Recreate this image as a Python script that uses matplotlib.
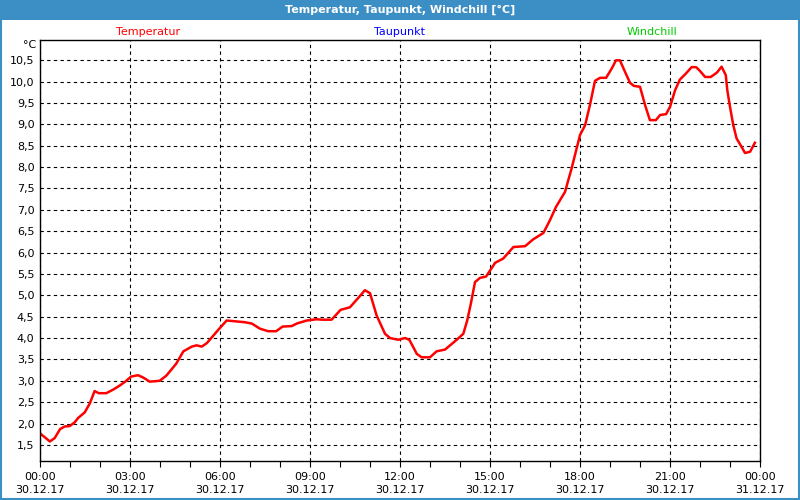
import matplotlib.pyplot as plt
import matplotlib.dates as mdates
import matplotlib.ticker as mticker
from matplotlib.patches import Rectangle
import numpy as np
import datetime as dt

# hours since 30.12.17 00:00 and temperature in °C
hours = [0.0, 0.33, 0.49, 0.67, 0.82, 0.99, 1.16, 1.27, 1.49, 1.66, 1.82, 1.96,
         2.21, 2.43, 2.66, 2.84, 3.04, 3.27, 3.43, 3.66, 3.99, 4.21, 4.54, 4.78,
         5.06, 5.22, 5.39, 5.56, 5.94, 6.22, 6.39, 6.83, 7.06, 7.33, 7.61, 7.87,
         8.09, 8.39, 8.56, 8.89, 9.22, 9.39, 9.72, 10.02, 10.33, 10.61, 10.83, 11.0,
         11.22, 11.5, 11.67, 11.94, 12.17, 12.31, 12.44, 12.56, 12.72, 13.0, 13.22,
         13.5, 13.89, 14.11, 14.24, 14.36, 14.5, 14.67, 14.87, 15.17, 15.44, 15.78,
         16.17, 16.44, 16.78, 17.0, 17.2, 17.5, 17.72, 18.0, 18.17, 18.33, 18.5,
         18.67, 18.87, 19.06, 19.2, 19.33, 19.5, 19.67, 19.8, 20.0, 20.17, 20.33,
         20.53, 20.67, 20.87, 21.0, 21.17, 21.33, 21.53, 21.72, 21.87, 22.0, 22.17,
         22.36, 22.56, 22.72, 22.86, 22.91, 23.0, 23.11, 23.22, 23.39, 23.5, 23.67,
         23.83]
temp = [1.77, 1.58, 1.66, 1.87, 1.93, 1.94, 2.03, 2.13, 2.26, 2.47, 2.76, 2.71,
        2.71, 2.79, 2.89, 2.98, 3.10, 3.13, 3.08, 2.98, 3.00, 3.12, 3.40, 3.69,
        3.80, 3.83, 3.80, 3.88, 4.19, 4.41, 4.40, 4.37, 4.34, 4.22, 4.16, 4.16,
        4.27, 4.28, 4.34, 4.41, 4.44, 4.43, 4.43, 4.66, 4.72, 4.94, 5.12, 5.05,
        4.53, 4.10, 4.00, 3.96, 4.00, 3.96, 3.79, 3.63, 3.55, 3.55, 3.69,
        3.73, 3.96, 4.10, 4.41, 4.80, 5.31, 5.41, 5.44, 5.76, 5.86, 6.13,
        6.15, 6.31, 6.46, 6.76, 7.07, 7.42, 7.97, 8.75, 8.98, 9.45, 10.02,
        10.09, 10.09, 10.31, 10.50, 10.50, 10.23, 9.97, 9.90, 9.88, 9.45, 9.10,
        9.10, 9.22, 9.24, 9.41, 9.80, 10.05, 10.19, 10.34, 10.34, 10.25, 10.11,
        10.11, 10.21, 10.35, 10.15, 9.80, 9.41, 8.98, 8.67, 8.47, 8.33, 8.36,
        8.57]
series = ['Temperatur', 'Taupunkt', 'Windchill']
series_colors = ['#ff0000', '#0000ff', '#00cc00']
title = 'Temperatur, Taupunkt, Windchill [°C]'

base = dt.datetime(2017, 12, 30)
t = [base + dt.timedelta(hours=h) for h in hours]

plt.rcParams['font.family'] = ['DejaVu Sans']
plt.rcParams['font.size'] = 8

fig = plt.figure(figsize=(8, 5), dpi=100, facecolor='white')
W, H = 800.0, 500.0
ax = fig.add_axes([40/W, 1 - 460.7/H, 720/W, (460.7 - 40)/H])

ax.plot(t, temp, color=series_colors[0], lw=1.8, solid_joinstyle='round')

ax.set_xlim(base, base + dt.timedelta(hours=24))
ax.set_ylim(1.13, 10.975)

ax.xaxis.set_major_locator(mdates.HourLocator(byhour=range(0, 24, 3)))
ax.xaxis.set_minor_locator(mdates.HourLocator())
ax.xaxis.set_major_formatter(mdates.DateFormatter('%H:%M\n%d.%m.%y'))
ax.yaxis.set_major_locator(mticker.FixedLocator(np.arange(1.5, 10.51, 0.5)))
ax.yaxis.set_major_formatter(mticker.FuncFormatter(lambda v, p: f'{v:.1f}'.replace('.', ',')))

ax.tick_params(axis='x', which='both', direction='out', length=4, width=0.8,
               pad=4, colors='black')
ax.tick_params(axis='y', length=0, pad=4)

ax.grid(True, which='major', color='black', lw=0.8, ls=(0, (3, 3)))
for s in ax.spines.values():
    s.set_linewidth(1.0)
    s.set_color('black')

# unit label above the y axis
ax.text(-4/720, 1 - 5/420.7, '°C', transform=ax.transAxes, ha='right', va='center')

# series names above the plot
for name, col, xc in zip(series, series_colors, [148, 399, 652]):
    fig.text(xc/W, 1 - 32/H, name, color=col, ha='center', va='center')

# title bar and frame
fig.patches.append(Rectangle((0, 1 - 20/H), 1, 20/H, transform=fig.transFigure,
                             facecolor='#3c8fc5', edgecolor='none', zorder=0))
fig.patches.append(Rectangle((0.001, 0.002), 0.998, 0.996, transform=fig.transFigure,
                             facecolor='none', edgecolor='#3c8fc5', lw=1.5, zorder=0))
fig.text(0.5, 1 - 10/H, title, color='white', weight='bold', ha='center', va='center')

fig.canvas.draw()
for lab in ax.get_xticklabels():
    lab.set_linespacing(1.45)

fig.savefig('out.png', dpi=100, facecolor='white')
